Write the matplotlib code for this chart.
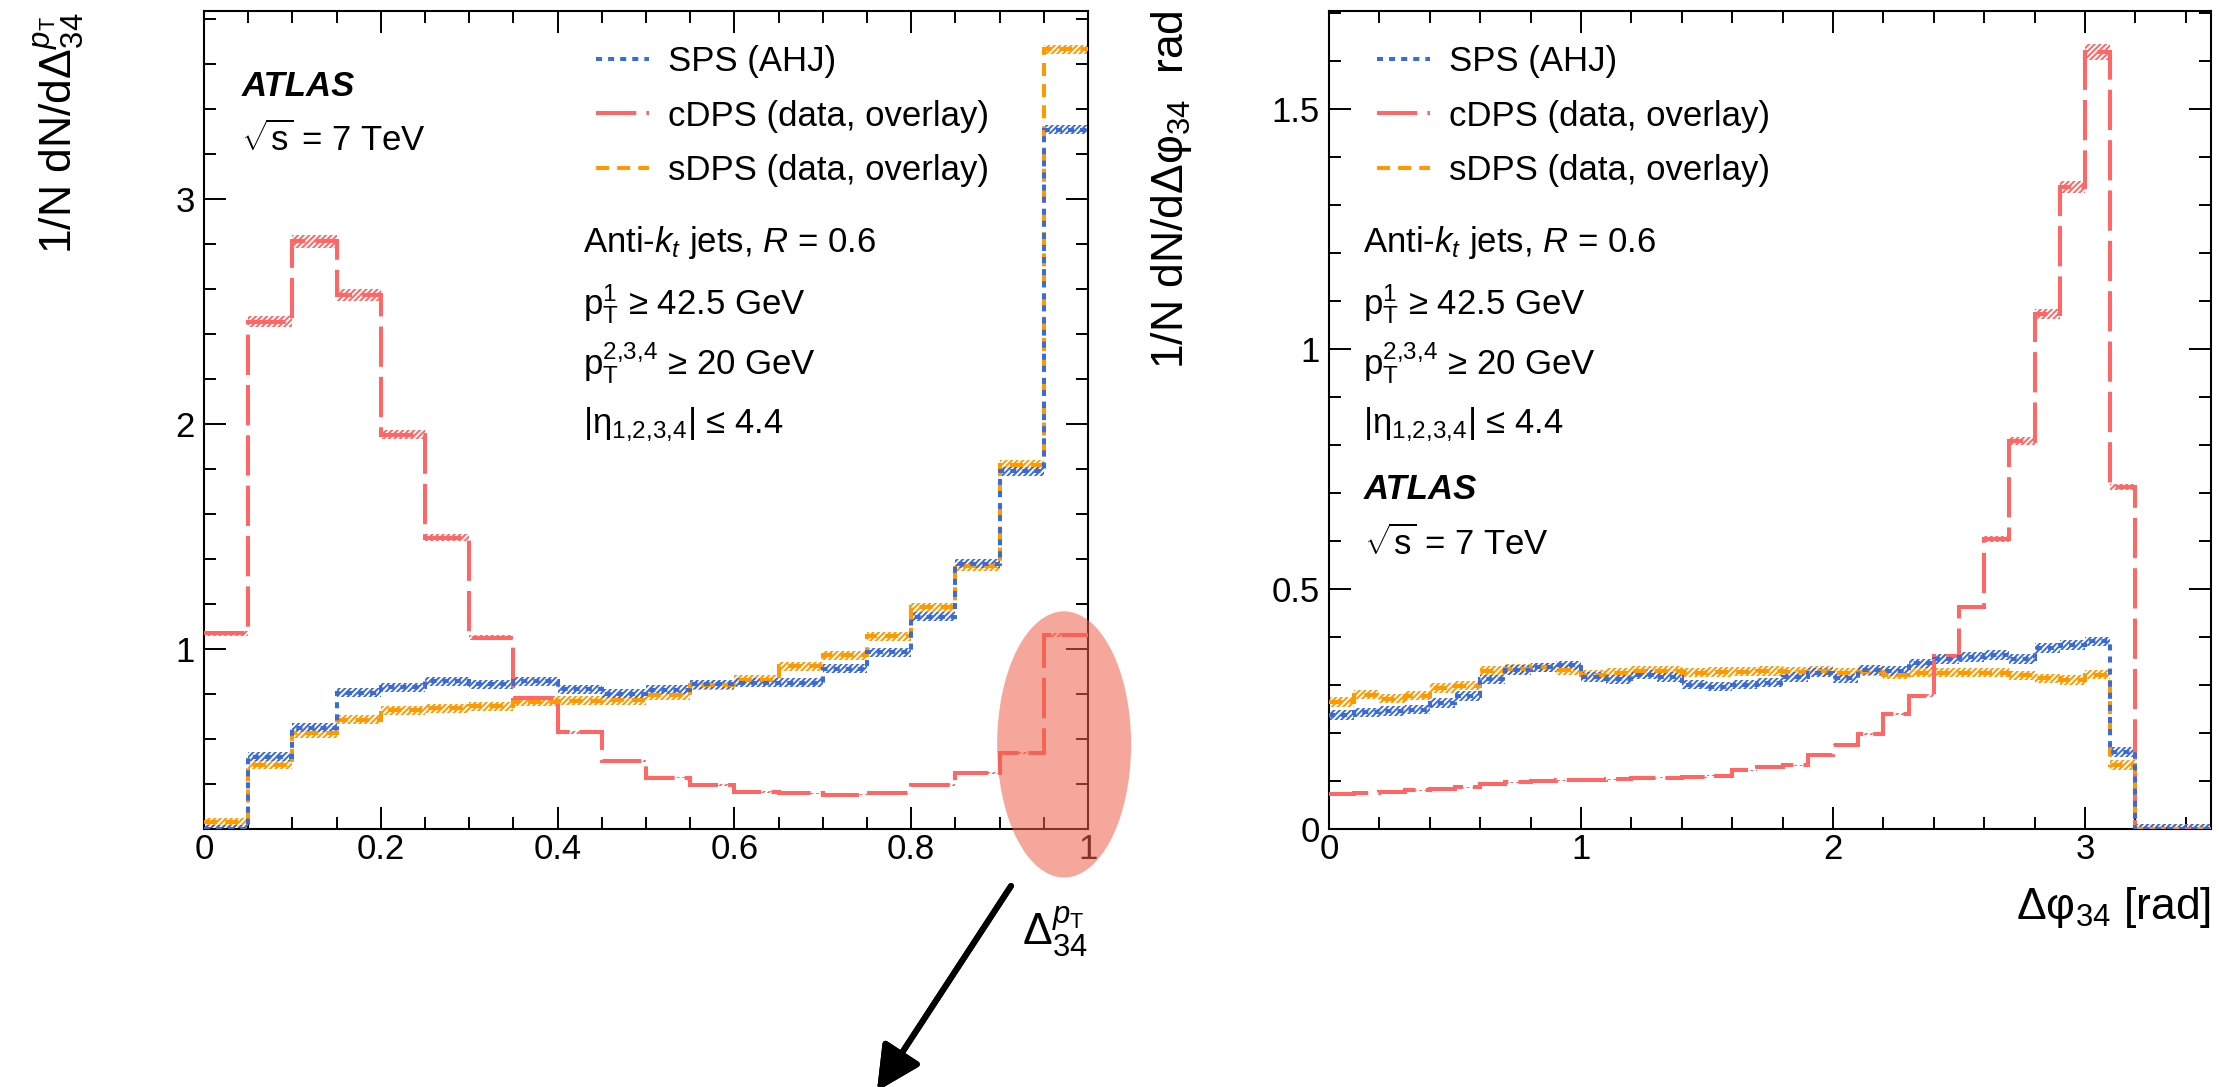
import numpy as np
import matplotlib
matplotlib.use("Agg")
import matplotlib.pyplot as plt
from matplotlib.patches import Ellipse
from matplotlib.ticker import MultipleLocator, FuncFormatter

# ---------------------------------------------------------------------------
# Data: normalised distributions, one value per bin
# ---------------------------------------------------------------------------
# Delta_34^pT : 20 bins on [0, 1]
dpt_edges = np.linspace(0.0, 1.0, 21)
dpt_sps = [0.198, 0.520, 0.649, 0.805, 0.829, 0.854, 0.841, 0.854, 0.820, 0.800,
           0.817, 0.841, 0.849, 0.849, 0.910, 0.983, 1.141, 1.378, 1.788, 3.307]
dpt_cdps = [1.068, 2.454, 2.812, 2.573, 1.951, 1.493, 1.049, 0.780, 0.629, 0.502,
            0.427, 0.393, 0.363, 0.356, 0.351, 0.356, 0.393, 0.446, 0.537, 1.061]
dpt_sdps = [0.227, 0.483, 0.624, 0.683, 0.727, 0.734, 0.744, 0.763, 0.768, 0.771,
            0.793, 0.837, 0.861, 0.922, 0.971, 1.056, 1.185, 1.366, 1.817, 3.666]

# Delta phi_34 : 35 bins on [0, 3.5] rad
dphi_edges = np.linspace(0.0, 3.5, 36)
dphi_sps = [0.237, 0.243, 0.246, 0.249, 0.263, 0.277, 0.312, 0.331, 0.337, 0.341,
            0.317, 0.312, 0.322, 0.317, 0.301, 0.297, 0.301, 0.305, 0.317, 0.326,
            0.314, 0.331, 0.329, 0.345, 0.354, 0.358, 0.363, 0.354, 0.377, 0.383,
            0.391, 0.160, 0.0, 0.0, 0.0]
dphi_cdps = [0.073, 0.075, 0.077, 0.081, 0.084, 0.087, 0.094, 0.097, 0.100, 0.102,
             0.103, 0.104, 0.106, 0.107, 0.108, 0.111, 0.122, 0.129, 0.133, 0.155,
             0.176, 0.198, 0.240, 0.278, 0.360, 0.463, 0.605, 0.808, 1.073, 1.338,
             1.620, 0.713, 0.0, 0.0, 0.0]
dphi_sdps = [0.265, 0.280, 0.272, 0.278, 0.294, 0.299, 0.329, 0.334, 0.337, 0.331,
             0.322, 0.326, 0.329, 0.329, 0.326, 0.327, 0.328, 0.329, 0.328, 0.329,
             0.326, 0.328, 0.322, 0.326, 0.326, 0.326, 0.326, 0.320, 0.314, 0.311,
             0.322, 0.134, 0.0, 0.0, 0.0]

# statistical bands: absolute half-width for the SPS/sDPS samples,
# relative half-width for the high-statistics cDPS overlay
err_abs = {"dpt": 0.02, "dphi": 0.01}
err_rel_cdps = 0.01

labels = ["SPS (AHJ)", "cDPS (data, overlay)", "sDPS (data, overlay)"]

# ---------------------------------------------------------------------------
# Style
# ---------------------------------------------------------------------------
plt.rcParams["font.family"] = ["Liberation Sans", "DejaVu Sans"]
plt.rcParams["mathtext.fontset"] = "custom"
plt.rcParams["mathtext.rm"] = "Liberation Sans"
plt.rcParams["mathtext.it"] = "Liberation Sans:italic"
plt.rcParams["mathtext.bf"] = "Liberation Sans:bold"
plt.rcParams["hatch.linewidth"] = 1.4

FS = 25        # tick labels, legend, annotations
FS_TITLE = 32  # axis titles
LW = 2.9
styles = {
    "sps": dict(color="#3a6bd6", dashes=(1.5, 1.5)),
    "cdps": dict(color="#ff6666", dashes=(10.0, 2.5)),
    "sdps": dict(color="#ff9900", dashes=(3.25, 2.0)),
}

W, H = 2219, 1087
fig = plt.figure(figsize=(W / 100, H / 100), dpi=100)
axL = fig.add_axes([204 / W, 1 - 829 / H, 884 / W, 818 / H])
axR = fig.add_axes([1329 / W, 1 - 829 / H, 882 / W, 818 / H])

fmt = FuncFormatter(lambda v, _: f"{v:g}")


def draw_hist(ax, edges, values, err, key, label):
    st = styles[key]
    vals = np.asarray(values, dtype=float)
    ax.stairs(vals + err, edges, baseline=vals - err, fill=True,
              facecolor="none", edgecolor=st["color"], hatch="//////",
              linewidth=0, zorder=2)
    return ax.stairs(vals, edges, baseline=None, color=st["color"],
                     linewidth=LW, linestyle=(0, st["dashes"]), zorder=3,
                     label=label)


def draw_panel(ax, edges, sps, cdps, sdps, err):
    hc = draw_hist(ax, edges, cdps, err_rel_cdps * np.asarray(cdps), "cdps", labels[1])
    hs = draw_hist(ax, edges, sdps, err, "sdps", labels[2])
    hp = draw_hist(ax, edges, sps, err, "sps", labels[0])
    return [hp, hc, hs]


def style_axes(ax):
    for sp in ax.spines.values():
        sp.set_linewidth(1.5)
    ax.tick_params(which="both", direction="in", top=True, right=True,
                   labelsize=FS, width=1.4)
    ax.tick_params(which="major", length=16)
    ax.tick_params(which="minor", length=8.6)
    ax.tick_params(axis="x", pad=3)
    ax.tick_params(axis="y", pad=6.5)
    ax.xaxis.set_major_formatter(fmt)
    ax.yaxis.set_major_formatter(fmt)


def add_legend(ax, handles, x_anchor):
    ax.legend(handles, labels, loc="upper left",
              bbox_to_anchor=(x_anchor, 0.958), bbox_transform=ax.transAxes,
              frameon=False, fontsize=FS, borderpad=0, borderaxespad=0,
              handlelength=1.53, handletextpad=0.55, labelspacing=0.61)


def cut_text(ax, x, y0):
    ys = [y0, y0 - 0.0758, y0 - 0.1492, y0 - 0.2213]
    ax.text(x, ys[0], r"Anti-$k_{t}$ jets, $R$ = 0.6", transform=ax.transAxes,
            fontsize=FS, va="baseline")
    ax.text(x, ys[1], r"p$_{\mathrm{T}}^{1}$ ≥ 42.5 GeV", transform=ax.transAxes,
            fontsize=FS, va="baseline")
    ax.text(x, ys[2], r"p$_{\mathrm{T}}^{2{,}3{,}4}$ ≥ 20 GeV",
            transform=ax.transAxes, fontsize=FS, va="baseline")
    ax.text(x, ys[3], r"|η$_{1{,}2{,}3{,}4}$| ≤ 4.4", transform=ax.transAxes,
            fontsize=FS, va="baseline")


def atlas_text(ax, x, y, dy):
    ax.text(x, y, "ATLAS", transform=ax.transAxes, fontsize=FS,
            fontweight="bold", fontstyle="italic", va="baseline")
    ax.text(x, y - dy, r"$\sqrt{\mathrm{s}}$ = 7 TeV", transform=ax.transAxes,
            fontsize=FS, va="baseline")


# ---------------------------------------------------------------------------
# Left panel: Delta_34^pT
# ---------------------------------------------------------------------------
handles = draw_panel(axL, dpt_edges, dpt_sps, dpt_cdps, dpt_sdps, err_abs["dpt"])
axL.set_xlim(0, 1)
axL.set_ylim(0.198, 3.836)
axL.xaxis.set_major_locator(MultipleLocator(0.2))
axL.xaxis.set_minor_locator(MultipleLocator(0.05))
axL.yaxis.set_major_locator(MultipleLocator(1))
axL.yaxis.set_minor_locator(MultipleLocator(0.2))
style_axes(axL)
add_legend(axL, handles, 0.4434)
atlas_text(axL, 0.0424, 0.896, 0.0672)
cut_text(axL, 0.4287, 0.7054)

axL.set_xlabel(r"$\Delta_{34}^{p_{\mathrm{T}}}$", fontsize=FS_TITLE, loc="right")
axL.xaxis.label.set_verticalalignment("baseline")
axL.xaxis.set_label_coords(1.0, -0.142)
axL.set_ylabel(r"1/N dN/d$\Delta_{34}^{p_{\mathrm{T}}}$", fontsize=FS_TITLE, loc="top")
axL.yaxis.label.set_verticalalignment("baseline")
axL.yaxis.set_label_coords(-0.149, 0.998)

# highlight of the last bins
axL.add_patch(Ellipse((0.973, 0.574), 0.1516, 1.184, facecolor="#f0604a",
                      edgecolor="none", alpha=0.55, clip_on=False, zorder=6))

# ---------------------------------------------------------------------------
# Right panel: Delta phi_34
# ---------------------------------------------------------------------------
handles = draw_panel(axR, dphi_edges, dphi_sps, dphi_cdps, dphi_sdps, err_abs["dphi"])
axR.set_xlim(0, 3.5)
axR.set_ylim(0, 1.705)
axR.xaxis.set_major_locator(MultipleLocator(1))
axR.xaxis.set_minor_locator(MultipleLocator(0.2))
axR.yaxis.set_major_locator(MultipleLocator(0.5))
axR.yaxis.set_minor_locator(MultipleLocator(0.1))
style_axes(axR)
add_legend(axR, handles, 0.0544)
cut_text(axR, 0.0385, 0.7054)
atlas_text(axR, 0.0397, 0.4034, 0.0685)

axR.set_xlabel(r"$\Delta\mathrm{φ}_{34}$ [rad]", fontsize=FS_TITLE, loc="right")
axR.xaxis.label.set_verticalalignment("baseline")
axR.xaxis.set_label_coords(1.0, -0.11)
axR.set_ylabel(r"1/N dN/d$\Delta\mathrm{φ}_{34}$  rad", fontsize=FS_TITLE, loc="top")
axR.yaxis.label.set_verticalalignment("baseline")
axR.yaxis.set_label_coords(-0.1655, 1.001)

# pointer arrow below the highlighted region
fig.add_artist(plt.annotate("", xy=(877, -4), xytext=(1011, 201),
                            xycoords="figure pixels", textcoords="figure pixels",
                            arrowprops=dict(arrowstyle="-|>,head_length=0.9,head_width=0.45",
                                            color="black", lw=4.3,
                                            mutation_scale=30, shrinkA=0, shrinkB=0)))

fig.savefig("out.png", dpi=100)
